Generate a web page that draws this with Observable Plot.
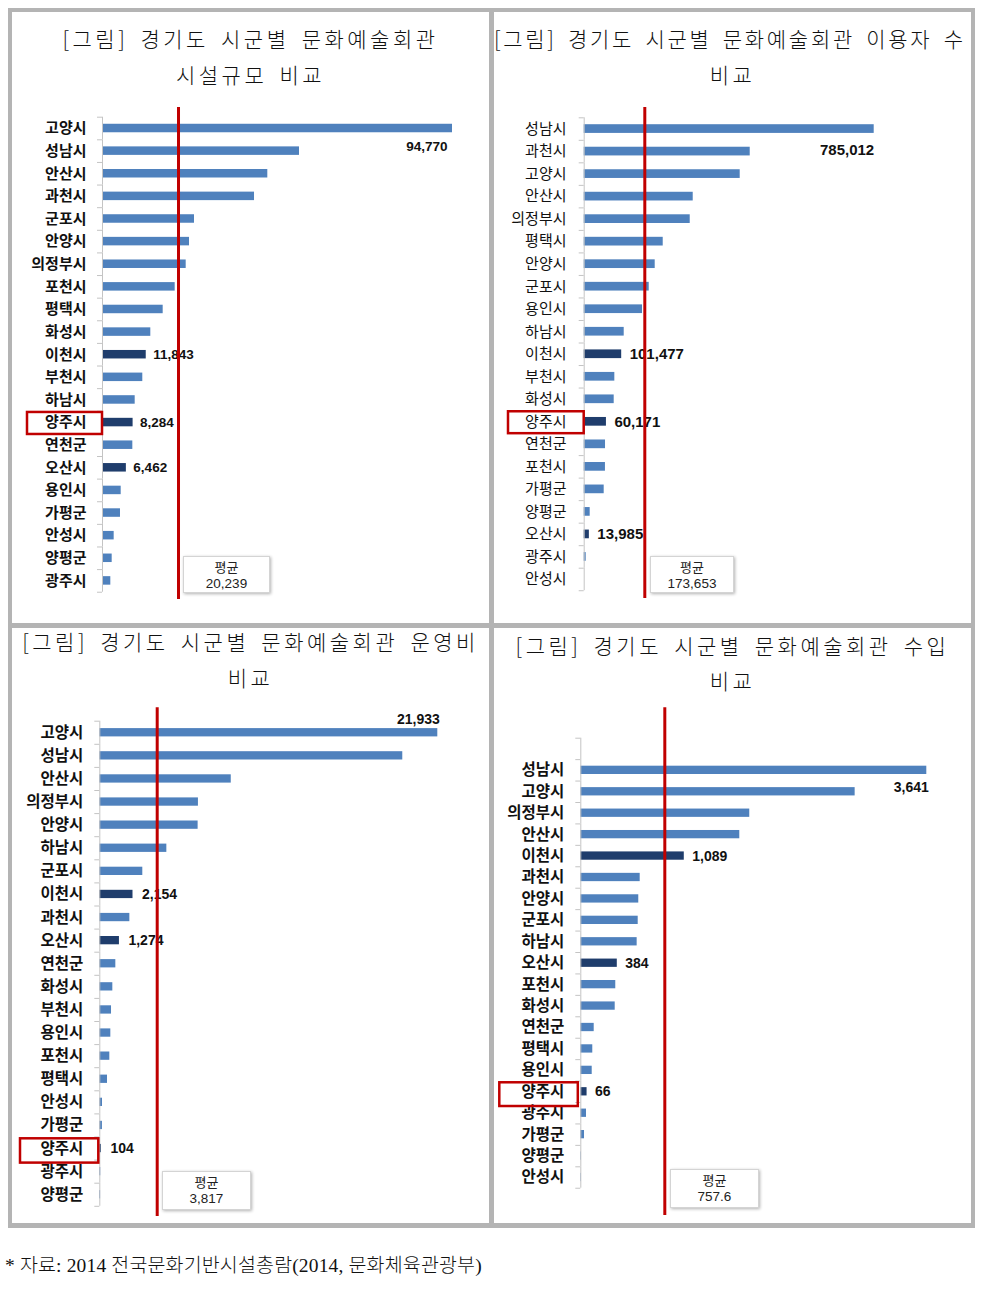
<!DOCTYPE html>
<html>
<head>
<meta charset="utf-8">
<script src="https://cdn.jsdelivr.net/npm/d3@7"></script>
<script src="https://cdn.jsdelivr.net/npm/@observablehq/plot@0.6"></script>
<style>
  body { margin: 0; background: #fff; width: 981px; height: 1290px; position: relative; overflow: hidden; font-family: "Noto Sans CJK KR", sans-serif; }
  #frame { position: absolute; left: 8px; top: 8px; width: 967px; height: 1220px; background: #b4b4b4; }
  .panel { position: absolute; background: #fff; }
  .title { position: absolute; left: 0; width: 100%; text-align: center; white-space: nowrap; font-size: 21px; color: #111; letter-spacing: 3.5px; word-spacing: 4px; line-height: 30px; font-weight: 300; }
  .plot { position: absolute; left: 0; }
  .avg { position: absolute; background: #fff; border: 1px solid #d4d4d4; box-shadow: 1px 1px 3px rgba(0,0,0,0.3); text-align: center; font-size: 13px; color: #222; line-height: 17px; box-sizing: border-box; padding-top: 1px; }
  .avg .num { font-family: "Liberation Sans", Arial, sans-serif; font-size: 13.5px; }
  #source { position: absolute; left: 5px; top: 1249px; font-size: 19.5px; color: #111; font-family: "Liberation Serif", "Noto Sans CJK KR", serif; white-space: nowrap; letter-spacing: 0.15px; font-weight: 300; }
</style>
</head>
<body>
<div id="frame"></div>
<div id="source">* 자료: 2014 전국문화기반시설총람(2014, 문화체육관광부)</div>
<script>
// ---------- data ----------
const highlighted = ["이천시", "양주시", "오산시"];

// 시설규모
const facilityCities = ["고양시","성남시","안산시","과천시","군포시","안양시","의정부시","포천시","평택시","화성시","이천시","부천시","하남시","양주시","연천군","오산시","용인시","가평군","안성시","양평군","광주시"];
const facilityValues = [94770, 53340, 44760, 41160, 24910, 23560, 22660, 19680, 16430, 13080, 11843, 10910, 8850, 8284, 8210, 6462, 5060, 4870, 3160, 2620, 2250];
const facilityAverage = "20,239";
const facilityAverageLine = 20580;

// 이용자 수
const usersCities = ["성남시","과천시","고양시","안산시","의정부시","평택시","안양시","군포시","용인시","하남시","이천시","부천시","화성시","양주시","연천군","포천시","가평군","양평군","오산시","광주시","안성시"];
const usersValues = [785012, 449400, 422300, 295100, 287000, 213900, 192200, 176000, 157900, 108300, 101477, 82900, 81200, 60171, 57700, 57500, 54100, 16200, 13985, 5400, 0];
const usersAverage = "173,653";
const usersAverageLine = 164040;

// 운영비
const costCities = ["고양시","성남시","안산시","의정부시","안양시","하남시","군포시","이천시","과천시","오산시","연천군","화성시","부천시","용인시","포천시","평택시","안성시","가평군","양주시","광주시","양평군"];
const costValues = [21933, 19660, 8530, 6400, 6380, 4350, 2790, 2154, 1950, 1274, 1040, 845, 760, 715, 650, 500, 175, 170, 104, 60, 50];
const costAverage = "3,817";
const costAverageLine = 3725;

// 수입
const incomeCities = ["","성남시","고양시","의정부시","안산시","이천시","과천시","안양시","군포시","하남시","오산시","포천시","화성시","연천군","평택시","용인시","양주시","광주시","가평군","양평군","안성시"];
const incomeValues = [null, 3641, 2887, 1778, 1673, 1089, 625, 610, 604, 593, 384, 368, 362, 141, 126, 120, 66, 60, 39, 5, 5];
const incomeAverage = "757.6";
const incomeAverageLine = 884;

const titleHead = "[그림] 경기도 시군별 문화예술회관";

// ---------- drawing ----------
const blue = "#4f81bd", navy = "#1f3d6c", red = "#c00000", axisGrey = "#c4c4c4";
const fmt = d3.format(",");

function drawPanel(cfg) {
  const W = 477;
  const panel = document.createElement("div");
  panel.className = "panel";
  Object.assign(panel.style, {left: cfg.left + "px", top: cfg.top + "px", width: W + "px", height: cfg.height + "px"});
  document.body.appendChild(panel);

  cfg.titles.forEach((t, i) => {
    const d = document.createElement("div");
    d.className = "title";
    d.textContent = t;
    d.style.top = (cfg.titleY[i] - cfg.top - 15) + "px";
    if (i === 0 && cfg.titleLeft != null) {
      d.style.textAlign = "left";
      d.style.left = cfg.titleLeft + "px";
      d.style.letterSpacing = cfg.titleSpacing + "px";
    }
    panel.appendChild(d);
  });

  const data = cfg.cats.map((name, i) => ({name, value: cfg.vals[i]}));
  const n = cfg.cats.length;
  const step = cfg.step;
  const ml = cfg.axisX - cfg.left;
  const mr = cfg.left + W - cfg.maxEnd;
  const mt = cfg.lineTop - cfg.svgTop;
  const mb = 6;
  const H = cfg.lineBottom - cfg.svgTop + mb;
  const yInsetTop = cfg.axisTop - cfg.lineTop;
  const yInsetBottom = cfg.lineBottom - (cfg.axisTop + n * step);
  const barInset = (step - cfg.barH) / 2;
  const max = d3.max(cfg.vals);
  const topItem = data.find(d => d.value === max);
  const labelled = data.filter(d => highlighted.includes(d.name));
  const valueFont = "'Liberation Sans', Arial, sans-serif";

  const chart = Plot.plot({
    width: W, height: H,
    marginLeft: ml, marginRight: mr, marginTop: mt, marginBottom: mb,
    style: {background: "transparent", overflow: "visible", fontFamily: "'Noto Sans CJK KR', sans-serif"},
    x: {domain: [0, max], axis: null},
    y: {type: "band", domain: cfg.cats, padding: 0, round: false, insetTop: yInsetTop, insetBottom: yInsetBottom, axis: null},
    marks: [
      Plot.barX(data, {x: "value", y: "name", fill: d => highlighted.includes(d.name) ? navy : blue, insetTop: barInset, insetBottom: barInset}),
      Plot.tickX(cfg.cats, {x: () => 0, y: d => d, stroke: axisGrey}),
      Plot.axisY({tickSize: 5, tickFormat: () => "", stroke: axisGrey, dy: -step / 2, label: null}),
      Plot.axisY([cfg.cats[n - 1]], {tickSize: 5, tickFormat: () => "", stroke: axisGrey, dy: step / 2, label: null}),
      Plot.axisY({tickSize: 0, tickPadding: cfg.pad, fontSize: cfg.labelSize, fontWeight: cfg.labelWeight, fill: "#111", label: null}),
      Plot.text(labelled, {x: "value", y: "name", text: d => fmt(d.value), dx: cfg.valDx, textAnchor: "start", fontSize: cfg.valueSize, fontWeight: "bold", fontFamily: valueFont, fill: "#111"}),
      Plot.text([topItem], {x: "value", y: "name", text: d => fmt(d.value), dx: cfg.topDx, dy: cfg.topDy, textAnchor: "end", fontSize: cfg.valueSize, fontWeight: "bold", fontFamily: valueFont, fill: "#111"}),
      Plot.barX(["양주시"], {y: d => d, x1: 0, x2: 0, fill: "none", stroke: red, strokeWidth: 2.5, insetLeft: -cfg.box[0], insetRight: cfg.box[1], insetTop: cfg.box[2], insetBottom: cfg.box[3]}),
      Plot.ruleX([cfg.line], {stroke: red, strokeWidth: 3})
    ]
  });
  chart.classList.add("plot");
  chart.style.top = (cfg.svgTop - cfg.top) + "px";
  chart.style.position = "absolute";
  panel.appendChild(chart);

  const avg = document.createElement("div");
  avg.className = "avg";
  const [ax, ay, aw, ah] = cfg.avgBox;
  Object.assign(avg.style, {left: ax + "px", top: ay + "px", width: aw + "px", height: ah + "px"});
  avg.innerHTML = `<div>평균</div><div class="num">${cfg.avg}</div>`;
  document.body.appendChild(avg);
}

drawPanel({
  left: 12, top: 12, height: 611,
  titles: [titleHead, "시설규모 비교"], titleY: [38, 74],
  cats: facilityCities, vals: facilityValues, avg: facilityAverage, line: facilityAverageLine,
  svgTop: 100, lineTop: 107, lineBottom: 599, axisTop: 116.7, step: 22.62, barH: 8.5,
  axisX: 102, maxEnd: 452, pad: 16, labelSize: 15, labelWeight: "bold", valueSize: 13.5,
  valDx: 7, topDx: -5, topDy: 18,
  box: [75, 0, 1.2, -0.6], avgBox: [183, 556, 87, 37]
});

drawPanel({
  left: 494, top: 12, height: 611,
  titles: [titleHead + " 이용자 수", "비교"], titleY: [38, 74], titleLeft: 0, titleSpacing: 2.7,
  cats: usersCities, vals: usersValues, avg: usersAverage, line: usersAverageLine,
  svgTop: 100, lineTop: 107, lineBottom: 598, axisTop: 117.3, step: 22.52, barH: 8.7,
  axisX: 583.7, maxEnd: 873.7, pad: 17.7, labelSize: 15, labelWeight: "normal", valueSize: 15,
  valDx: 8, topDx: 0, topDy: 21,
  box: [75.7, 0, 1.2, -0.6], avgBox: [650, 556, 84, 37]
});

drawPanel({
  left: 12, top: 628, height: 595,
  titles: [titleHead + " 운영비", "비교"], titleY: [641, 677],
  cats: costCities, vals: costValues, avg: costAverage, line: costAverageLine,
  svgTop: 700, lineTop: 707.3, lineBottom: 1216, axisTop: 720.7, step: 23.1, barH: 8.3,
  axisX: 99.3, maxEnd: 437.3, pad: 16.6, labelSize: 15.5, labelWeight: "bold", valueSize: 14,
  valDx: 9, topDx: 2, topDy: -13,
  box: [79.3, 1, 1.8, -3], avgBox: [162, 1171, 89, 39]
});

drawPanel({
  left: 494, top: 628, height: 595,
  titles: [titleHead + " 수입", "비교"], titleY: [645, 680],
  cats: incomeCities, vals: incomeValues, avg: incomeAverage, line: incomeAverageLine,
  svgTop: 700, lineTop: 707.3, lineBottom: 1215, axisTop: 737.7, step: 21.43, barH: 8.3,
  axisX: 580.3, maxEnd: 926.3, pad: 16.6, labelSize: 15.5, labelWeight: "bold", valueSize: 14,
  valDx: 8, topDx: 2, topDy: 17,
  box: [81, 2.5, 1.7, -4], avgBox: [670, 1169, 89, 39]
});
</script>
</body>
</html>
